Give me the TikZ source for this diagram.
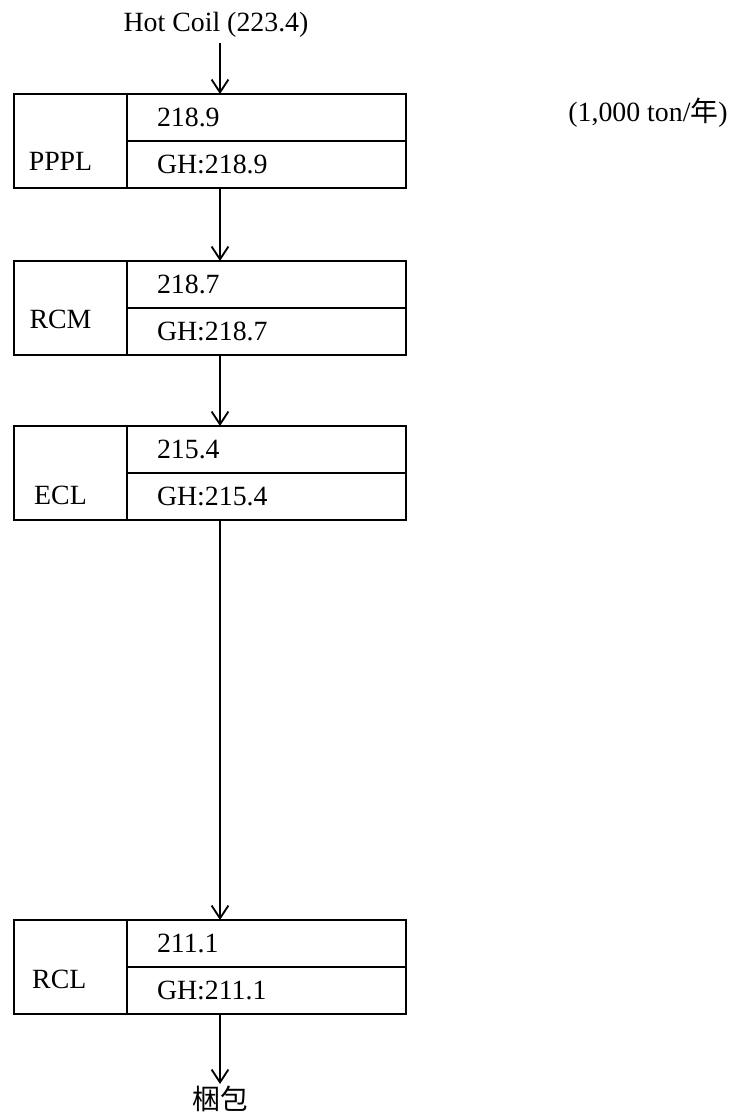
\documentclass[tikz,border=0pt]{standalone}
\usepackage{fontspec}
\setmainfont{Liberation Serif}
\newfontfamily\cjk{Noto Sans CJK JP}
\usetikzlibrary{positioning,arrows.meta}

\begin{document}
\begin{tikzpicture}[font=\fontsize{19.8}{23}\selectfont,
  >={Straight Barb[length=3.2mm,width=4.2mm]},
  cell/.style={draw,line width=1.3pt,minimum width=2.825cm,minimum height=2.35cm,anchor=north west,inner sep=0pt,outer sep=0pt},
  val/.style={draw,line width=1.3pt,text width=5.475cm,inner xsep=0.75cm,inner ysep=0pt,outer sep=0pt,
    minimum height=1.175cm,align=left,anchor=north west},
  flow/.style={->,line width=1.3pt}]
  \useasboundingbox (0,0) rectangle (18.425,-27.95);
  \coordinate (axis) at (5.5,0);

  % input and unit note
  \node (hot) at (5.4,-0.625) {Hot Coil (223.4)};
  \node (unit) at (16.2,-2.825) {(1,000 ton/{\cjk 年})};

  % ---------------- PPPL ----------------
  \node[cell] (pppl) at (0.35,-2.35) {};
  \node at ([xshift=-2.5mm,yshift=-5mm]pppl.center) {PPPL};
  \node[val] (pppl-v) at (pppl.north east) {218.9};
  \node[val] (pppl-g) at (pppl-v.south west) {GH:218.9};

  % ---------------- RCM ----------------
  \node[cell] (rcm) at (0.35,-6.525) {};
  \node at ([xshift=-2.5mm,yshift=-2.8mm]rcm.center) {RCM};
  \node[val] (rcm-v) at (rcm.north east) {218.7};
  \node[val] (rcm-g) at (rcm-v.south west) {GH:218.7};

  % ---------------- ECL ----------------
  \node[cell] (ecl) at (0.35,-10.65) {};
  \node at ([xshift=-2.5mm,yshift=-5.5mm]ecl.center) {ECL};
  \node[val] (ecl-v) at (ecl.north east) {215.4};
  \node[val] (ecl-g) at (ecl-v.south west) {GH:215.4};

  % ---------------- RCL ----------------
  \node[cell] (rcl) at (0.35,-23.0) {};
  \node at ([xshift=-2.8mm,yshift=-3mm]rcl.center) {RCL};
  \node[val] (rcl-v) at (rcl.north east) {211.1};
  \node[val] (rcl-g) at (rcl-v.south west) {GH:211.1};

  \node[anchor=north,inner ysep=0.5mm] (pack) at (5.5,-27.1) {\cjk 梱包};

  % flow down the line
  \draw[flow] (hot.south -| axis) -- (pppl-v.north -| axis);
  \draw[flow] (pppl-g.south -| axis) -- (rcm-v.north -| axis);
  \draw[flow] (rcm-g.south -| axis) -- (ecl-v.north -| axis);
  \draw[flow] (ecl-g.south -| axis) -- (rcl-v.north -| axis);
  \draw[flow] (rcl-g.south -| axis) -- (pack.north -| axis);
\end{tikzpicture}
\end{document}
